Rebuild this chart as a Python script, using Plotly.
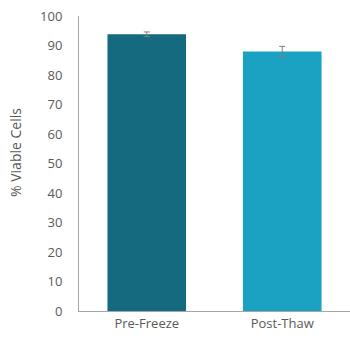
import plotly.graph_objects as go

categories = ["Pre-Freeze", "Post-Thaw"]
values = [93.8, 88.0]
errors = [0.8, 1.7]
colors = ["#166a7f", "#1ba1c2"]
y_title = "% Viable Cells"

fig = go.Figure(go.Bar(
    x=categories, y=values,
    marker=dict(color=colors, line=dict(width=0)),
    error_y=dict(type="data", array=errors, visible=True, color="#7f7f7f", thickness=1, width=3),
    hoverinfo="skip",
))

fig.update_layout(
    width=350, height=343,
    margin=dict(l=79, r=0, t=16, b=32, autoexpand=False),
    plot_bgcolor="white", paper_bgcolor="white",
    bargap=0.42,
    showlegend=False,
    font=dict(family="Open Sans", size=13, color="#595959"),
    xaxis=dict(showline=True, linecolor="#a6a6a6", linewidth=1, ticks="", showgrid=False,
               automargin=False, tickfont=dict(size=13, color="#595959")),
    yaxis=dict(range=[0, 100], dtick=10, showline=True, linecolor="#a6a6a6", linewidth=1,
               ticks="", showgrid=False, zeroline=False, ticklabelstandoff=13, automargin=False,
               tickfont=dict(size=13, color="#595959")),
    annotations=[dict(text=y_title, textangle=-90, xref="paper", yref="paper",
                      x=-0.2325, y=0.539, xanchor="center", yanchor="middle",
                      showarrow=False, font=dict(size=14, color="#595959"))],
)

fig.write_html(
    "out.html",
    config={"displayModeBar": False},
    post_script="document.body.style.margin='0';document.body.style.padding='0';document.body.style.overflow='hidden';",
)
